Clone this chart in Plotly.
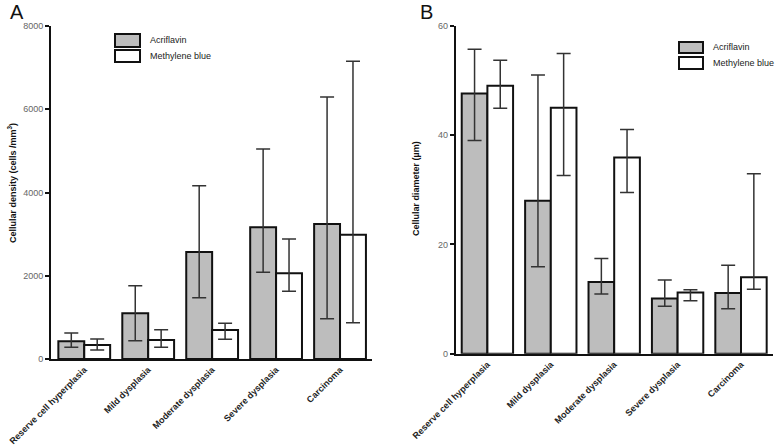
import plotly.graph_objects as go

categories = ["Reserve cell hyperplasia", "Mild dysplasia", "Moderate dysplasia",
              "Severe dysplasia", "Carcinoma"]

# Panel A: cellular density (cells/mm3)
dens_acr = [425, 1098, 2570, 3163, 3243]
dens_acr_hi = [624, 1761, 4163, 5044, 6293]
dens_acr_lo = [280, 440, 1473, 2083, 968]
dens_mb = [336, 456, 697, 2058, 2986]
dens_mb_hi = [480, 704, 858, 2882, 7151]
dens_mb_lo = [216, 280, 473, 1626, 872]

# Panel B: cellular diameter (um)
diam_acr = [47.6, 28.0, 13.1, 10.1, 11.1]
diam_acr_hi = [55.7, 51.0, 17.4, 13.5, 16.2]
diam_acr_lo = [39.0, 15.9, 10.9, 8.7, 8.2]
diam_mb = [49.0, 45.0, 35.9, 11.2, 14.0]
diam_mb_hi = [53.7, 54.9, 41.0, 11.7, 32.9]
diam_mb_lo = [44.9, 32.6, 29.5, 9.7, 11.8]

series_names = ["Acriflavin", "Methylene blue"]
y_ticks_a = [0, 2000, 4000, 6000, 8000]
y_ticks_b = [0, 20, 40, 60]

W, H = 778, 448
GREY = "#bdbdbd"
FONT = "Liberation Sans, Arial, sans-serif"


def px(x):
    return x / W


def py(y):
    return 1 - y / H


def bar(name, y, hi, lo, fill, xa, ya):
    return go.Bar(
        name=name, x=categories, y=y, xaxis=xa, yaxis=ya,
        marker=dict(color=fill, line=dict(color="#111", width=2)),
        error_y=dict(type="data", symmetric=False,
                     array=[h - v for h, v in zip(hi, y)],
                     arrayminus=[v - l for v, l in zip(y, lo)],
                     color="#333", thickness=1.5, width=7),
        showlegend=False,
    )


fig = go.Figure()
fig.add_trace(bar(series_names[0], dens_acr, dens_acr_hi, dens_acr_lo, GREY, "x", "y"))
fig.add_trace(bar(series_names[1], dens_mb, dens_mb_hi, dens_mb_lo, "white", "x", "y"))
fig.add_trace(bar(series_names[0], diam_acr, diam_acr_hi, diam_acr_lo, GREY, "x2", "y2"))
fig.add_trace(bar(series_names[1], diam_mb, diam_mb_hi, diam_mb_lo, "white", "x2", "y2"))

xcommon = dict(type="category", showline=True, linecolor="#111", linewidth=2,
               ticks="", tickangle=-45, showgrid=False, zeroline=False,
               tickfont=dict(family=FONT, size=9, color="#222", weight="bold"),
               automargin=False)
ycommon = dict(showline=True, linecolor="#111", linewidth=2, ticks="outside",
               ticklen=4, tickwidth=1.5, tickcolor="#111", showgrid=False,
               zeroline=False, tickfont=dict(family=FONT, size=9, color="#666"),
               automargin=False)

fig.update_layout(
    width=W, height=H,
    margin=dict(l=0, r=0, t=0, b=0),
    paper_bgcolor="white", plot_bgcolor="white",
    barmode="group", bargap=0.19, bargroupgap=0,
    xaxis=dict(xcommon, domain=[px(51), px(372)], range=[-0.52, 4.5], anchor="y"),
    yaxis=dict(ycommon, domain=[py(359), py(26)], range=[0, 8000],
               tickvals=y_ticks_a, anchor="x"),
    xaxis2=dict(xcommon, domain=[px(455.7), px(772.7)], range=[-0.5, 4.5], anchor="y2"),
    yaxis2=dict(ycommon, domain=[py(353.7), py(25.7)], range=[0, 60],
                tickvals=y_ticks_b, anchor="x2"),
    font=dict(family=FONT),
)

annotations = [
    dict(text="A", x=px(17), y=py(12), font=dict(size=20, color="#111")),
    dict(text="B", x=px(426), y=py(12), font=dict(size=20, color="#111")),
    dict(text="Cellular density (cells /mm<sup>3</sup>)", x=px(12), y=py(183),
         textangle=-90, font=dict(size=9, color="#111", weight="bold")),
    dict(text="Cellular diameter (µm)", x=px(416), y=py(188),
         textangle=-90, font=dict(size=9, color="#111", weight="bold")),
]

shapes = []
legends = [
    # (box x0, x1, row tops/bottoms, text x)
    (115, 140, [(34, 47), (50, 62)], 148),
    (679, 703, [(42, 53), (57, 69)], 711),
]
fills = [GREY, "white"]
for x0, x1, rows, tx in legends:
    for (y0, y1), fill, name in zip(rows, fills, series_names):
        shapes.append(dict(type="rect", xref="paper", yref="paper",
                           x0=px(x0), x1=px(x1), y0=py(y1), y1=py(y0),
                           fillcolor=fill, line=dict(color="#111", width=2)))
        annotations.append(dict(text=name, x=px(tx), y=py((y0 + y1) / 2),
                                xanchor="left", font=dict(size=9, color="#222")))

for a in annotations:
    a.setdefault("xref", "paper")
    a.setdefault("yref", "paper")
    a.setdefault("xanchor", "center")
    a.setdefault("yanchor", "middle")
    a.setdefault("showarrow", False)

fig.update_layout(annotations=annotations, shapes=shapes)

fig.write_html("out.html",
               config={"displayModeBar": False},
               post_script="document.body.style.margin='0';document.body.style.overflow='hidden';")
